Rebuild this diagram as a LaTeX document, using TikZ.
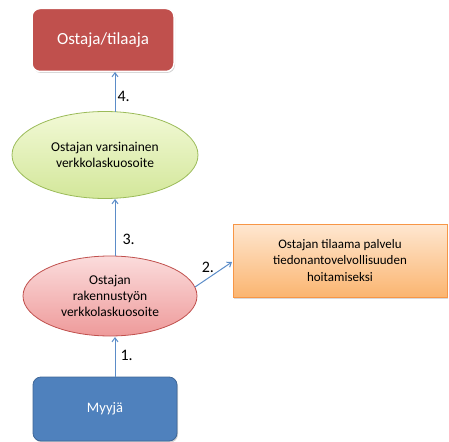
\documentclass[tikz,border=0pt]{standalone}
\usepackage{fontspec}
\setmainfont{Carlito}
\usetikzlibrary{shapes.geometric,arrows.meta,shadows,positioning}
\definecolor{redbox}{HTML}{C0504D}
\definecolor{bluebox}{HTML}{4F81BD}
\definecolor{arrowc}{HTML}{5B8CC8}
\definecolor{greenlight}{HTML}{F2F9D6}
\definecolor{greendark}{HTML}{D3E79A}
\definecolor{greenedge}{HTML}{9BBB59}
\definecolor{pinklight}{HTML}{FBDCDC}
\definecolor{pinkdark}{HTML}{EE9A9A}
\definecolor{pinkedge}{HTML}{C0504D}
\definecolor{orangelight}{HTML}{FEE7D1}
\definecolor{orangedark}{HTML}{FBB570}
\definecolor{orangeedge}{HTML}{F79646}
\tikzset{
  rbox/.style={rounded corners=8pt, draw=white, line width=1.5pt, drop shadow={shadow xshift=1pt,shadow yshift=-1.5pt,opacity=0.35}, text=white, inner sep=0pt},
  ell/.style={ellipse, line width=0.8pt, align=center, font=\fontsize{13.5}{16}\selectfont, inner sep=0pt},
  conn/.style={-{Straight Barb[length=4pt,width=6pt]}, draw=arrowc, line width=1pt},
  lbl/.style={font=\fontsize{16}{18}\selectfont, text=black, inner sep=1pt}
}
\begin{document}
\begin{tikzpicture}[x=1pt,y=-1pt]
\useasboundingbox (0,0) rectangle (449,441);
% top red box
\node[rbox, fill=redbox, minimum width=142pt, minimum height=63pt, font=\fontsize{17}{19}\selectfont] (buyer) at (103,40) {Ostaja/tilaaja};
% green ellipse
\node[ell, draw=greenedge, top color=greenlight, bottom color=greendark, minimum width=186pt, minimum height=87pt] (green) at (105,155) {Ostajan varsinainen\\verkkolaskuosoite};
% pink ellipse
\node[ell, draw=pinkedge, top color=pinklight, bottom color=pinkdark, minimum width=174pt, minimum height=80pt] (pink) at (110,296) {Ostajan\\rakennustyön\\verkkolaskuosoite};
% orange box
\node[draw=orangeedge, line width=0.8pt, top color=orangelight, bottom color=orangedark, minimum width=214pt, minimum height=73pt, align=center, font=\fontsize{13}{16.5}\selectfont, inner sep=0pt, drop shadow={shadow xshift=1pt,shadow yshift=-1.5pt,opacity=0.3}] (service) at (340,260.5) {Ostajan tilaama palvelu\\tiedonantovelvollisuuden\\hoitamiseksi};
% blue box
\node[rbox, fill=bluebox, draw=bluebox!80!black, line width=0.8pt, minimum width=144pt, minimum height=64pt, font=\fontsize{14.5}{17}\selectfont] (seller) at (105,409) {Myyjä};
% connectors
\coordinate (s1) at (115,377);
\coordinate (e1) at (115,337);
\coordinate (s3) at (115,256);
\coordinate (e3) at (115,199);
\coordinate (s4) at (115,112);
\coordinate (e4) at (115,72);
\coordinate (s2) at (195,287);
\coordinate (e2) at (232,262);
\draw[conn] (s1) -- (e1) node[lbl, pos=0.55, anchor=west, xshift=4pt] {1.};
\draw[conn] (s2) -- (e2) node[lbl, pos=0.5, anchor=south east, xshift=2pt] {2.};
\draw[conn] (s3) -- (e3) node[lbl, pos=0.3, anchor=west, xshift=6pt] {3.};
\draw[conn] (s4) -- (e4) node[lbl, pos=0.38, anchor=west, xshift=1pt] {4.};
\end{tikzpicture}
\end{document}
